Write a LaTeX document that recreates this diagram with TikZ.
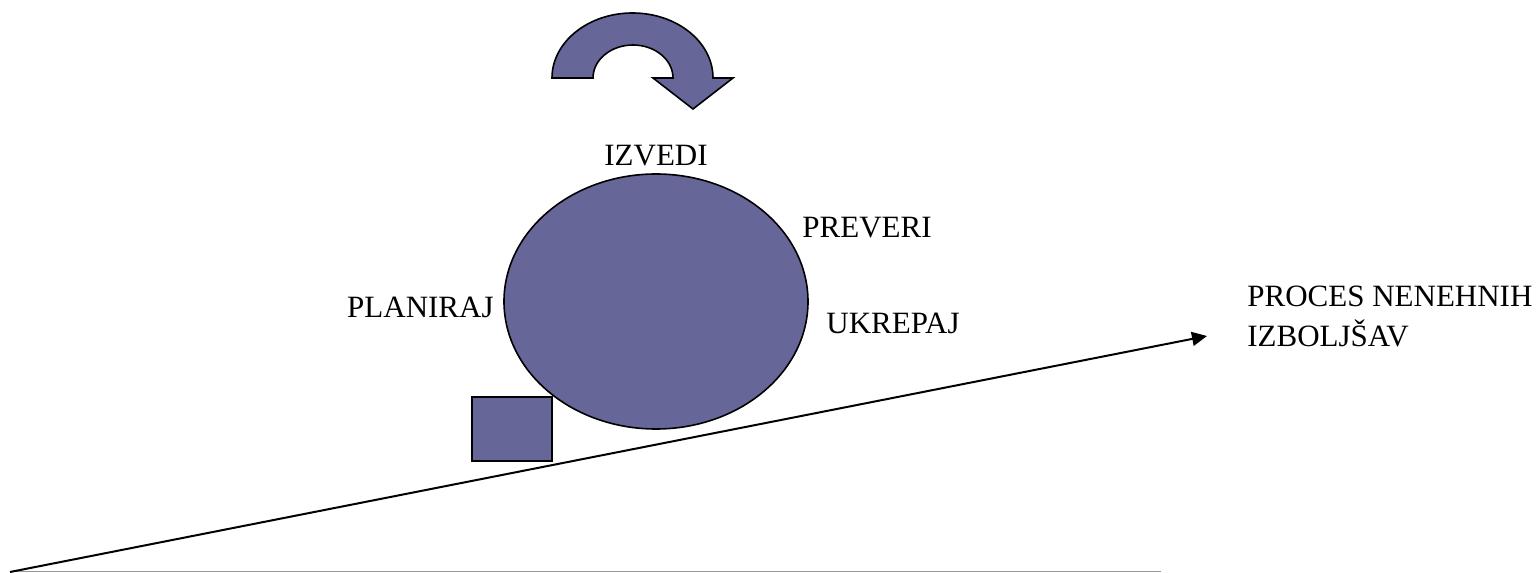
\documentclass[tikz,border=0pt]{standalone}
\usepackage{fontspec}
\setmainfont{Liberation Serif}
\usetikzlibrary{shapes.geometric,arrows.meta,positioning}
\definecolor{cyclepurple}{RGB}{102,102,153}

\begin{document}
\begin{tikzpicture}[x=0.5pt, y=0.5pt, every node/.style={font=\fontsize{15.5}{20}\selectfont, inner sep=0pt},
  shapefill/.style={draw=black, line width=0.8pt, fill=cyclepurple}]
\useasboundingbox (0,0) rectangle (1538,573);
\node[shapefill, ellipse, minimum width=152pt, minimum height=127.5pt] (krog) at (656,271.5) {};
\node[shapefill, rectangle, minimum width=40pt, minimum height=32pt] (klada) at (512,144) {};
\draw[shapefill] (552,495) arc[start angle=180, end angle=0, x radius=40.25pt, y radius=32.5pt]
  -- (733,495) -- (693,464) -- (653,495) -- (673,495)
  arc[start angle=0, end angle=180, x radius=20pt, y radius=16.5pt] -- cycle;
\node[anchor=base] (izvedi) at (656,407) {IZVEDI};
\node[anchor=base west] (preveri) at (802,335) {PREVERI};
\node[anchor=base east] (planiraj) at (494,255) {PLANIRAJ};
\node[anchor=base west] (ukrepaj) at (826,239) {UKREPAJ};
\coordinate (dno) at (10,1);
\coordinate (vrh) at (1207,237);
\node[anchor=base west, align=left] (proces) at (1247,226) {PROCES NENEHNIH\\IZBOLJŠAV};
\draw[gray!80, line width=0.6pt] (dno) ++(0,0.5) -- (1161,1.5);
\draw[line width=1pt, -{Triangle[length=7.5pt,width=7pt]}] (dno) -- (vrh);
\end{tikzpicture}
\end{document}
